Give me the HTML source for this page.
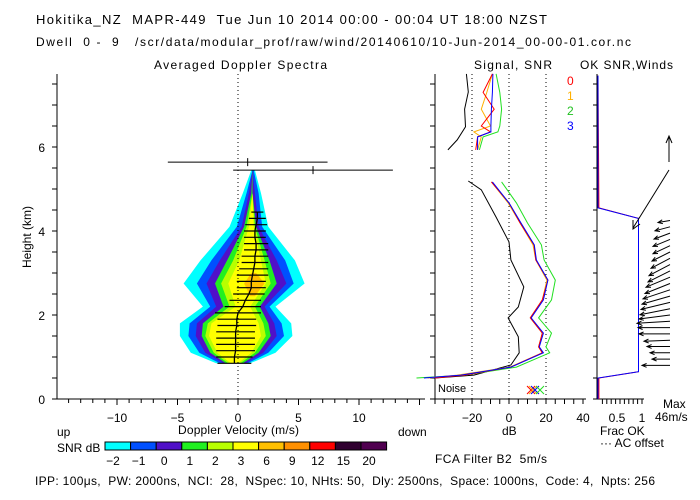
<!DOCTYPE html>
<html><head><meta charset="utf-8"><style>
html,body{margin:0;padding:0;background:#fff;}
svg{display:block;font-family:"Liberation Sans",sans-serif;}
text{font-size:12px;white-space:pre;}
</style></head><body>
<svg id="chart" width="700" height="500" viewBox="0 0 700 500" xmlns="http://www.w3.org/2000/svg" xml:space="preserve">
<rect width="700" height="500" fill="#fff"/>
<text x="36" y="24" style="font-size:13px" textLength="511">Hokitika_NZ  MAPR-449  Tue Jun 10 2014 00:00 - 00:04 UT 18:00 NZST</text>
<text x="36" y="46" style="font-size:12px" textLength="595">Dwell  0 -  9   /scr/data/modular_prof/raw/wind/20140610/10-Jun-2014_00-00-01.cor.nc</text>
<text x="154" y="69" textLength="173">Averaged Doppler Spectra</text>
<text x="474" y="69" textLength="78">Signal, SNR</text>
<text x="580" y="69" textLength="93">OK SNR,Winds</text>
<g id="spec"></g>
<g id="sig"></g>
<g id="wind"></g>
<g id="cbar"></g>
<text x="57" y="436">up</text>
<text x="178" y="434" textLength="121">Doppler Velocity (m/s)</text>
<text x="398" y="436">down</text>
<text x="57" y="452">SNR dB</text>
<text x="502" y="435">dB</text>
<text x="600" y="435">Frac OK</text>
<text x="600" y="447">··· AC offset</text>
<text x="663" y="408">Max</text>
<text x="655" y="421">46m/s</text>
<text x="435" y="463" textLength="112">FCA Filter B2  5m/s</text>
<text x="35" y="485" textLength="620">IPP: 100μs,  PW: 2000ns,  NCI:  28,  NSpec: 10, NHts: 50,  Dly: 2500ns,  Space: 1000ns,  Code: 4,  Npts: 256</text>
</svg>
<script>
// ---- data ----
const contourHeights = [0.85,1.1,1.5,1.8,2.2,2.75,3.3,4.1,4.9,5.45];
const cyanL   = [-1.8,-3.9,-4.8,-4.8,-2.9,-4.5,-3.1,-0.7,0.4,1.1];
const cyanR   = [ 1.0, 3.1, 4.5, 4.4, 3.1, 5.5, 4.7, 2.5,1.9,1.4];
const blueL   = [-1.5,-3.2,-4.1,-4.0,-2.3,-3.4,-2.2,-0.1,0.7,1.2];
const blueR   = [ 0.8, 2.5, 3.8, 3.6, 2.6, 4.6, 3.9, 2.0,1.7,1.3];
const purpleL = [-1.2,-2.7,-3.5,-3.4,-1.8,-2.6,-1.5, 0.3,0.9,1.2];
const purpleR = [ 0.6, 2.1, 3.2, 3.0, 2.2, 4.0, 3.2, 1.7,1.4,1.2];
const greenL  = [-1.0,-2.3,-3.0,-2.9,-1.2,-1.9,-0.9, 0.5,1.1,1.2];
const greenR  = [ 0.4, 1.7, 2.7, 2.5, 1.8, 3.2, 2.6, 1.5,1.2,1.2];
const ygL     = [-0.8,-2.0,-2.7,-2.5,-0.7,-1.4,-0.4, 0.7,1.2,1.2];
const ygR     = [ 0.2, 1.4, 2.3, 2.1, 1.4, 2.7, 2.2, 1.4,1.2,1.2];
const yelL    = [-0.6,-1.7,-2.4,-2.2,-0.2,-0.8, 0.1, 0.9,1.2,1.2];
const yelR    = [ 0.0, 1.1, 1.9, 1.7, 1.0, 2.3, 1.9, 1.3,1.2,1.2];
const orangeHeights = [2.45,2.75,3.0];
const orangeL = [1.0,0.5,1.1];
const orangeR = [1.4,2.2,1.5];
const gateHeights = [0.85,1.0,1.15,1.3,1.45,1.6,1.75,1.9,2.05,2.2,2.35,2.5,2.65,2.8,2.95,3.1,3.25,3.4,3.55,3.7,3.85,4.0,4.15,4.3,4.45];
const meanVel = [-0.3,-0.3,-0.2,-0.2,-0.2,-0.2,-0.1,-0.1,0,0.4,0.6,0.9,1.1,1.1,1.2,1.3,1.4,1.4,1.5,1.5,1.4,1.4,1.5,1.6,1.6];
const halfWidth = [1.4,1.5,1.6,1.6,1.6,1.6,1.6,1.6,1.9,1.5,1.3,1.3,1.2,1.2,1.3,1.2,1.1,1.1,1.0,1.0,0.9,0.9,0.9,0.7,0.5];
const outlierHeights = [5.64,5.45];
const outlierMean = [0.8,6.2];
const outlierHalf = [6.6,6.6];
const cbLabels = ["-2","-1","0","1","2","3","6","9","12","15","20"];
const cbColors = ["#00ffff","#0050ff","#5010c8","#20f020","#b8ff00","#ffff00","#ffc000","#ff9000","#ff0000","#300030","#500050"];
const blackUpH = [7.74,7.31,6.9,6.48,6.17,5.93];
const blackUpDb = [-23,-22,-24,-23.5,-28,-33];
const blackLoH = [5.19,4.98,4.33,3.74,3.31,2.67,2.19,1.93,1.48,1.10,0.81,0.57,0.5];
const blackLoDb = [-22,-15,-7,0,1,8,5,-0.5,5,5.5,1,-19,-40];
const snrUpH = [7.74,7.3,6.9,6.5,6.36,6.24,5.93];
const snrUpBlue = [-8.7,-9,-9.5,-9.8,-9.8,-17,-17];
const snrUpRed = [-9,-14,-8,-15,-10,-17,-18];
const snrUpOrange = [-9,-12,-15,-10,-19,-15,-17];
const snrUpGreen = [-7,-5,-4,-5,-6,-14,-16];
const snrLoH = [5.17,4.67,4.19,3.67,3.31,2.83,2.36,1.93,1.57,1.24,1.10,0.76,0.57,0.5];
const snrLoBlue = [-9,0,6.5,13.7,14.8,21,18.6,12,18.6,16.4,18.6,1,-26,-46];
const snrLoRed = [-9.5,0,6,13.5,14.5,21,18,11.5,18,16,18,1,-24,-40];
const snrLoOrange = [-9.5,-0.5,6,13,14.5,20.5,18,11.5,18,16,18,0.5,-28,-44];
const snrLoGreen = [-4,4,10,17.5,19,25,23,16,23,20,22,4,-24,-50];
const fracH = [7.7,4.55,4.3,0.65,0.5,0];
const fracBlue = [0,0,0.92,0.92,0,0];
const fracRed = [0,0.02,0.92,0.92,0.02,0.02];
const windH = [4.25,4.1,3.95,3.8,3.65,3.5,3.35,3.2,3.05,2.9,2.75,2.6,2.45,2.3,2.15,2.0,1.85,1.7,1.55,1.4,1.25,1.1,0.95,0.8];
const windU = [-12,-15,-16,-17,-17,-18,-19,-21,-22,-24,-25,-27,-28,-29,-30,-31,-33,-32,-31,-26,-23,-20,-18,-28];
const windV = [-2,-4,-6,-7,-8,-9,-10,-11,-11,-10,-10,-9,-8,-7,-6,-4,-2,0,0,-1,0,0,0,0];

// ---- scales ----
const NS="http://www.w3.org/2000/svg";
const yH = h => 399 - 42*h;
const xV = v => 238 + 12.1*v;
const xDb = d => 509 + 1.85*d;
const xF = f => 598 + 44*f;
function mk(parent, tag, attrs){const e=document.createElementNS(NS,tag);for(const k in attrs)e.setAttribute(k,attrs[k]);parent.appendChild(e);return e;}
const spec=document.getElementById('spec'), sig=document.getElementById('sig'), wind=document.getElementById('wind'), cbar=document.getElementById('cbar');

function contour(L,R,H,color,name){
  let pts=[];
  for(let i=0;i<H.length;i++) pts.push(xV(L[i]).toFixed(1)+','+yH(H[i]).toFixed(1));
  for(let i=H.length-1;i>=0;i--) pts.push(xV(R[i]).toFixed(1)+','+yH(H[i]).toFixed(1));
  const p=mk(spec,'polygon',{points:pts.join(' '),fill:color});
  
  
}
contour(cyanL,cyanR,contourHeights,'#00ffff','contour-minus2db');
contour(blueL,blueR,contourHeights,'#0050ff','contour-minus1db');
contour(purpleL,purpleR,contourHeights,'#5010c8','contour-0db');
contour(greenL,greenR,contourHeights,'#20f020','contour-1db');
contour(ygL,ygR,contourHeights,'#b8ff00','contour-2db');
contour(yelL,yelR,contourHeights,'#ffff00','contour-3db');
contour(orangeL,orangeR,orangeHeights,'#ffc000','contour-6db');

const zl=mk(spec,'line',{x1:xV(0),y1:74,x2:xV(0),y2:399,stroke:'#000','stroke-dasharray':'1,3'});


let mpts=[];
for(let i=0;i<gateHeights.length;i++){
  const y=yH(gateHeights[i]);
  const b=mk(spec,'line',{x1:xV(meanVel[i]-halfWidth[i]),x2:xV(meanVel[i]+halfWidth[i]),y1:y,y2:y,stroke:'#000','stroke-width':1.2});
  
  
  mpts.push(xV(meanVel[i]).toFixed(1)+','+y.toFixed(1));
}
const ml=mk(spec,'polyline',{points:mpts.join(' '),fill:'none',stroke:'#000','stroke-width':1.3});


for(let i=0;i<outlierHeights.length;i++){
  const y=yH(outlierHeights[i]);
  const o=mk(spec,'line',{x1:xV(outlierMean[i]-outlierHalf[i]),x2:xV(outlierMean[i]+outlierHalf[i]),y1:y,y2:y,stroke:'#000'});
  
  
  const t=mk(spec,'line',{x1:xV(outlierMean[i]),x2:xV(outlierMean[i]),y1:y-4,y2:y+4,stroke:'#000'});
  
  
}
let ax=mk(spec,'path',{d:'M57,74 V399 H425',fill:'none',stroke:'#000'});


for(let h=0;h<=7.5;h+=0.5){const t=mk(spec,'line',{x1:52,x2:57,y1:yH(h),y2:yH(h),stroke:'#000'});
  
  }
for(let h=0;h<=6;h+=2){const t=mk(spec,'text',{x:45,y:yH(h)+5,'text-anchor':'end'});t.textContent=h;
  
  }
const yt=mk(spec,'text',{x:31,y:237,'text-anchor':'middle',transform:'rotate(-90 31 237)'});yt.textContent='Height (km)';


for(let v=-15;v<=15;v++){const x=xV(v);if(x<57||x>425)continue;
  const t=mk(spec,'line',{x1:x,x2:x,y1:399,y2:v%5==0?405:403,stroke:'#000'});
  
  
  if(v%5==0 && Math.abs(v)<=10){const l=mk(spec,'text',{x:x,y:422,'text-anchor':'middle'});l.textContent=v<0?'−'+(-v):v;
  
  }}

for(let i=0;i<cbColors.length;i++){
  const r=mk(cbar,'rect',{x:105+25.6*i,y:442,width:25.6,height:8,fill:cbColors[i],stroke:'#000'});
  
  
  const t=mk(cbar,'text',{x:113+25.6*i,y:465,'text-anchor':'middle'});t.textContent=cbLabels[i].replace('-','−');
  
  
}

let sa=mk(sig,'path',{d:'M435,74 V399 H586',fill:'none',stroke:'#000'});


for(let h=0;h<=7.5;h+=0.5){const t=mk(sig,'line',{x1:430,x2:435,y1:yH(h),y2:yH(h),stroke:'#000'});
  
  }
for(let d=-40;d<=40;d+=5){const x=xDb(d);if(x<435)continue;
  const t=mk(sig,'line',{x1:x,x2:x,y1:399,y2:404,stroke:'#000'});
  
  }
[-20,0,20,40].forEach(d=>{const l=mk(sig,'text',{x:xDb(d),y:422,'text-anchor':'middle'});l.textContent=d<0?'−'+(-d):d;
  
  
  if(d<40){const g=mk(sig,'line',{x1:xDb(d),x2:xDb(d),y1:74,y2:399,stroke:'#000','stroke-dasharray':'1,3'});
  
  }});
function sline(H,D,color,name){
  const p=mk(sig,'polyline',{points:H.map((h,i)=>xDb(D[i]).toFixed(1)+','+yH(h).toFixed(1)).join(' '),fill:'none',stroke:color});
  
  
}
sline(blackUpH,blackUpDb,'#000','signal-upper');
sline(blackLoH,blackLoDb,'#000','signal-lower');
sline(snrUpH,snrUpGreen,'#20e020','snr-beam2-upper');
sline(snrUpH,snrUpOrange,'#ffb000','snr-beam1-upper');
sline(snrUpH,snrUpRed,'#ff0000','snr-beam0-upper');
sline(snrUpH,snrUpBlue,'#0000ff','snr-beam3-upper');
sline(snrLoH,snrLoGreen,'#20e020','snr-beam2-lower');
sline(snrLoH,snrLoOrange,'#ffb000','snr-beam1-lower');
sline(snrLoH,snrLoRed,'#ff0000','snr-beam0-lower');
sline(snrLoH,snrLoBlue,'#0000ff','snr-beam3-lower');
const nz=mk(sig,'text',{x:438,y:392,style:'font-size:11px'});nz.textContent='Noise';


[['#ff0000',531],['#ffb000',533],['#0000ff',535],['#20e020',540]].forEach(c=>{
  const m=mk(sig,'path',{d:`M${c[1]-4},386 l8,8 M${c[1]+4},386 l-8,8`,stroke:c[0],fill:'none'});
  
  
});
[['0','#ff0000',85],['1','#ffb000',100],['2','#20c020',115],['3','#0000ff',130]].forEach(l=>{
  const t=mk(sig,'text',{x:567,y:l[2],style:'fill:'+l[1]});t.textContent=l[0];
  
  
});

let wa=mk(wind,'path',{d:'M597,74 V399 H644',fill:'none',stroke:'#000'});


for(let h=0;h<=7.5;h+=0.5){const t=mk(wind,'line',{x1:593,x2:597,y1:yH(h),y2:yH(h),stroke:'#000'});
  
  }
for(let f=0.1;f<=1.01;f+=0.1){const t=mk(wind,'line',{x1:xF(f),x2:xF(f),y1:399,y2:404,stroke:'#000'});
  
  }
[['0.5',0.5],['1',1]].forEach(l=>{const t=mk(wind,'text',{x:xF(l[1])-(l[0]=='1'?0:3),y:422,'text-anchor':'middle'});t.textContent=l[0];
  
  });
function fline(F,color,name){
  const p=mk(wind,'polyline',{points:fracH.map((h,i)=>xF(F[i]).toFixed(1)+','+yH(h).toFixed(1)).join(' '),fill:'none',stroke:color});
  
  
}
fline(fracRed,'#ff0000','frac-ok-beam0');
fline(fracBlue,'#0000ff','frac-ok-beam3');
for(let i=0;i<windH.length;i++){
  const x0=670,y0=yH(windH[i]),x1=x0+windU[i],y1=y0-windV[i];
  const a=Math.atan2(y1-y0,x1-x0);
  const d=`M${x0},${y0} L${x1.toFixed(1)},${y1.toFixed(1)} M${(x1-5*Math.cos(a-0.4)).toFixed(1)},${(y1-5*Math.sin(a-0.4)).toFixed(1)} L${x1.toFixed(1)},${y1.toFixed(1)} L${(x1-5*Math.cos(a+0.4)).toFixed(1)},${(y1-5*Math.sin(a+0.4)).toFixed(1)}`;
  const p=mk(wind,'path',{d:d,stroke:'#000',fill:'none'});
  
  
}
const big=mk(wind,'path',{d:'M669,162 L669,137 M666,143 L669,136 L672,143 M669,170 L633,228 M633,220 L633,229 L640,224',stroke:'#000',fill:'none'});


</script>
</body></html>
